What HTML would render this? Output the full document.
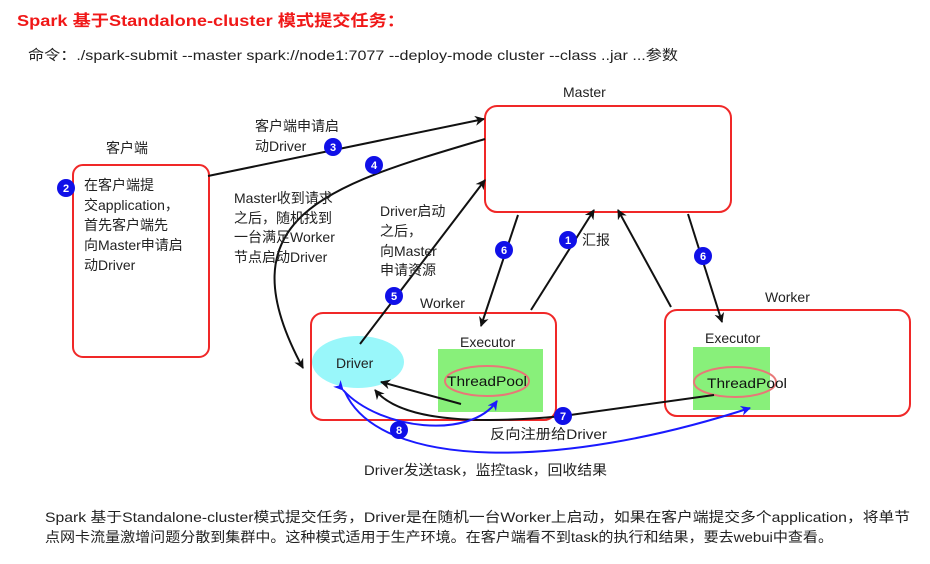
<!DOCTYPE html>
<html><head><meta charset="utf-8"><style>
html,body{margin:0;padding:0;background:#fff;}
svg{display:block;}
text{font-family:"Liberation Sans","Noto Sans CJK SC",sans-serif;}
</style></head><body>
<svg width="930" height="564" viewBox="0 0 930 564" xmlns="http://www.w3.org/2000/svg">
<defs>
<marker id="ak" markerWidth="10" markerHeight="10" refX="9" refY="5" orient="auto" markerUnits="userSpaceOnUse"><path d="M0,0 L10,5 L0,10 L3,5 z" fill="#111"/></marker>
<marker id="ab" markerWidth="10" markerHeight="10" refX="9" refY="5" orient="auto" markerUnits="userSpaceOnUse"><path d="M0,0 L10,5 L0,10 L3,5 z" fill="#1a1aff"/></marker>
</defs>
<text x="17" y="26" font-size="16" font-weight="bold" fill="#f01818" textLength="388" lengthAdjust="spacingAndGlyphs">Spark 基于Standalone-cluster 模式提交任务：</text>
<text x="28" y="60" font-size="14" fill="#222" textLength="650" lengthAdjust="spacingAndGlyphs">命令：./spark-submit --master spark://node1:7077 --deploy-mode cluster --class ..jar ...参数</text>

<rect x="485" y="106" width="246" height="106" rx="12" fill="none" stroke="#f02828" stroke-width="2"/>
<text x="563" y="97" font-size="14" fill="#222">Master</text>
<rect x="73" y="165" width="136" height="192" rx="10" fill="none" stroke="#f02828" stroke-width="2"/>
<text x="106" y="153" font-size="14" fill="#222">客户端</text>
<g font-size="14" fill="#222"><text x="84" y="190">在客户端提</text><text x="84" y="210">交application，</text><text x="84" y="230">首先客户端先</text><text x="84" y="250">向Master申请启</text><text x="84" y="270">动Driver</text></g>

<rect x="311" y="313" width="245" height="107" rx="12" fill="none" stroke="#f02828" stroke-width="2"/>
<text x="420" y="308" font-size="14" fill="#222">Worker</text>
<ellipse cx="358" cy="362" rx="46" ry="26" fill="#99f7fa"/>
<text x="336" y="368" font-size="14" fill="#222">Driver</text>
<text x="460" y="347" font-size="14" fill="#222">Executor</text>
<rect x="438" y="349" width="105" height="63" fill="#88f07a"/>
<ellipse cx="487" cy="381" rx="42" ry="15" fill="none" stroke="#e87878" stroke-width="2"/>
<text x="447" y="386" font-size="14" fill="#111" textLength="80" lengthAdjust="spacingAndGlyphs">ThreadPool</text>

<rect x="665" y="310" width="245" height="106" rx="12" fill="none" stroke="#f02828" stroke-width="2"/>
<text x="765" y="302" font-size="14" fill="#222">Worker</text>
<text x="705" y="343" font-size="14" fill="#222">Executor</text>
<rect x="693" y="347" width="77" height="63" fill="#88f07a"/>
<ellipse cx="735" cy="382" rx="41" ry="15" fill="none" stroke="#e87878" stroke-width="2"/>
<text x="707" y="388" font-size="14" fill="#111" textLength="80" lengthAdjust="spacingAndGlyphs">ThreadPool</text>

<g fill="none" stroke="#111" stroke-width="2">
<path d="M208,176 L484,119" marker-end="url(#ak)"/>
<path d="M485,139 C330,185 220,215 303,368" marker-end="url(#ak)"/>
<path d="M360,344 L485,180" marker-end="url(#ak)"/>
<path d="M518,215 L481,326" marker-end="url(#ak)"/>
<path d="M531,310 L594,210" marker-end="url(#ak)"/>
<path d="M671,307 L618,210" marker-end="url(#ak)"/>
<path d="M688,214 L722,322" marker-end="url(#ak)"/>
<path d="M461,404 L381,382" marker-end="url(#ak)"/>
<path d="M714,395 L563,416 C470,425 400,420 375,390" marker-end="url(#ak)"/>
</g>
<g fill="none" stroke="#1a1aff" stroke-width="2">
<path d="M343,390 C380,430 470,440 497,401" marker-end="url(#ab)" marker-start="url(#ab)"/>
<path d="M345,392 C380,470 560,470 750,408" marker-end="url(#ab)"/>
</g>

<g font-size="14" fill="#222">
<text x="255" y="131">客户端申请启</text><text x="255" y="151">动Driver</text>
<text x="234" y="203">Master收到请求</text><text x="234" y="223">之后，随机找到</text><text x="234" y="242">一台满足Worker</text><text x="234" y="262">节点启动Driver</text>
<text x="380" y="216">Driver启动</text><text x="380" y="236">之后，</text><text x="380" y="256">向Master</text><text x="380" y="275">申请资源</text>
<text x="582" y="245">汇报</text>
<text x="490" y="439" textLength="117" lengthAdjust="spacingAndGlyphs">反向注册给Driver</text>
<text x="364" y="475" textLength="243" lengthAdjust="spacingAndGlyphs">Driver发送task，监控task，回收结果</text>
<text x="45" y="522" textLength="865" lengthAdjust="spacingAndGlyphs">Spark 基于Standalone-cluster模式提交任务，Driver是在随机一台Worker上启动，如果在客户端提交多个application，将单节</text>
<text x="45" y="542" textLength="788" lengthAdjust="spacingAndGlyphs">点网卡流量激增问题分散到集群中。这种模式适用于生产环境。在客户端看不到task的执行和结果，要去webui中查看。</text>
</g>

<g font-size="11" font-weight="bold" fill="#fff" text-anchor="middle">
<circle cx="66" cy="188" r="9" fill="#1010e8"/><text x="66" y="192">2</text>
<circle cx="333" cy="147" r="9" fill="#1010e8"/><text x="333" y="151">3</text>
<circle cx="374" cy="165" r="9" fill="#1010e8"/><text x="374" y="169">4</text>
<circle cx="394" cy="296" r="9" fill="#1010e8"/><text x="394" y="300">5</text>
<circle cx="504" cy="250" r="9" fill="#1010e8"/><text x="504" y="254">6</text>
<circle cx="568" cy="240" r="9" fill="#1010e8"/><text x="568" y="244">1</text>
<circle cx="703" cy="256" r="9" fill="#1010e8"/><text x="703" y="260">6</text>
<circle cx="563" cy="416" r="9" fill="#1010e8"/><text x="563" y="420">7</text>
<circle cx="399" cy="430" r="9" fill="#1010e8"/><text x="399" y="434">8</text>
</g>
</svg>
</body></html>
